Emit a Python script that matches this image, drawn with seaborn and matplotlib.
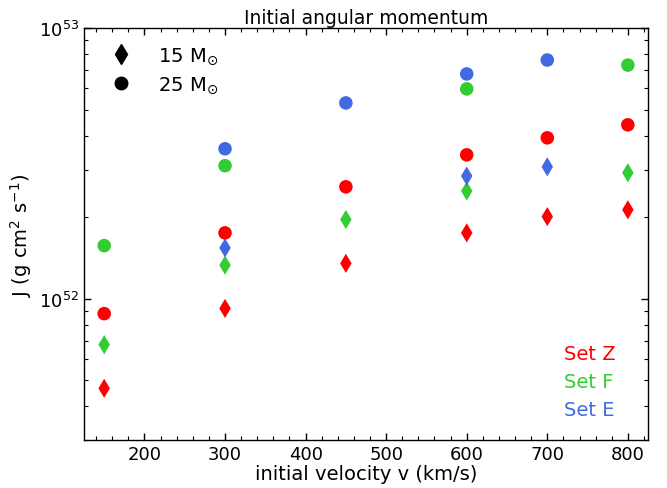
import pandas as pd
import matplotlib.pyplot as plt
import seaborn as sns
from matplotlib.lines import Line2D
from matplotlib.ticker import MultipleLocator, LogLocator, NullFormatter

# Datos
sets = ['Set Z', 'Set F', 'Set E']
colores = {'Set Z': '#ff0000', 'Set F': '#32cd32', 'Set E': '#4169e1'}

# 15 Msun (diamantes)
v15_z = [150, 300, 450, 600, 700, 800]
j15_z = [4.66e51, 9.2e51, 1.35e52, 1.75e52, 2.01e52, 2.13e52]
v15_f = [150, 300, 450, 600, 800]
j15_f = [6.76e51, 1.33e52, 1.96e52, 2.50e52, 2.92e52]
v15_e = [300, 600, 700]
j15_e = [1.54e52, 2.84e52, 3.07e52]

# 25 Msun (circulos)
v25_z = [150, 300, 450, 600, 700, 800]
j25_z = [8.8e51, 1.75e52, 2.59e52, 3.40e52, 3.93e52, 4.39e52]
v25_f = [150, 300, 600, 800]
j25_f = [1.57e52, 3.10e52, 5.96e52, 7.30e52]
v25_e = [300, 450, 600, 700]
j25_e = [3.58e52, 5.29e52, 6.77e52, 7.62e52]

filas = []
for s, m, vs, js in [('Set Z', '15', v15_z, j15_z), ('Set F', '15', v15_f, j15_f),
                     ('Set E', '15', v15_e, j15_e), ('Set Z', '25', v25_z, j25_z),
                     ('Set F', '25', v25_f, j25_f), ('Set E', '25', v25_e, j25_e)]:
    for v, j in zip(vs, js):
        filas.append({'set': s, 'masa': m, 'v': v, 'J': j})
df = pd.DataFrame(filas)

sns.set_style('white')
plt.rcParams['font.family'] = ['DejaVu Sans']
plt.rcParams['text.color'] = 'black'
plt.rcParams['axes.labelcolor'] = 'black'
plt.rcParams['xtick.color'] = 'black'
plt.rcParams['ytick.color'] = 'black'

fig = plt.figure(figsize=(6.67, 4.89), dpi=100)
ax = fig.add_axes([0.126, 0.098, 0.8455, 0.8425])

sns.scatterplot(data=df, x='v', y='J', hue='set', style='masa', palette=colores,
                markers={'15': 'd', '25': 'o'}, s=95, linewidth=0, legend=False, ax=ax)

ax.set_yscale('log')
ax.set_xlim(125, 825)
ax.set_ylim(3e51, 1e53)
ax.xaxis.set_major_locator(MultipleLocator(100))
ax.xaxis.set_minor_locator(MultipleLocator(20))
ax.yaxis.set_major_locator(LogLocator(base=10))
ax.yaxis.set_minor_locator(LogLocator(base=10, subs=range(2, 10)))
ax.yaxis.set_minor_formatter(NullFormatter())
ax.tick_params(which='both', direction='in', top=True, right=True, bottom=True, left=True,
               labelsize=13)
ax.tick_params(which='major', length=5, width=1)
ax.tick_params(which='minor', length=3, width=0.8)
for sp in ax.spines.values():
    sp.set_color('black')
    sp.set_linewidth(1)

ax.set_xlabel('initial velocity v (km/s)', fontsize=14, labelpad=1)
ax.set_ylabel('J (g cm$^2$ s$^{-1}$)', fontsize=14)
ax.set_title('Initial angular momentum', fontsize=13.5, pad=4)

# Leyenda de masas
handles = [Line2D([], [], marker='d', color='black', linestyle='none', markersize=10),
           Line2D([], [], marker='o', color='black', linestyle='none', markersize=9)]
ax.legend(handles, ['15 M$_{\\odot}$', '25 M$_{\\odot}$'], loc='upper left', frameon=False,
          fontsize=14, handletextpad=0.9, labelspacing=0.4, borderaxespad=0.5)

# Etiquetas de sets
for i, s in enumerate(sets):
    ax.text(0.851, 0.21 - i * 0.068, s, color=colores[s], fontsize=14,
            ha='left', va='center', transform=ax.transAxes)

plt.savefig('out.png', dpi=100)
plt.close()
